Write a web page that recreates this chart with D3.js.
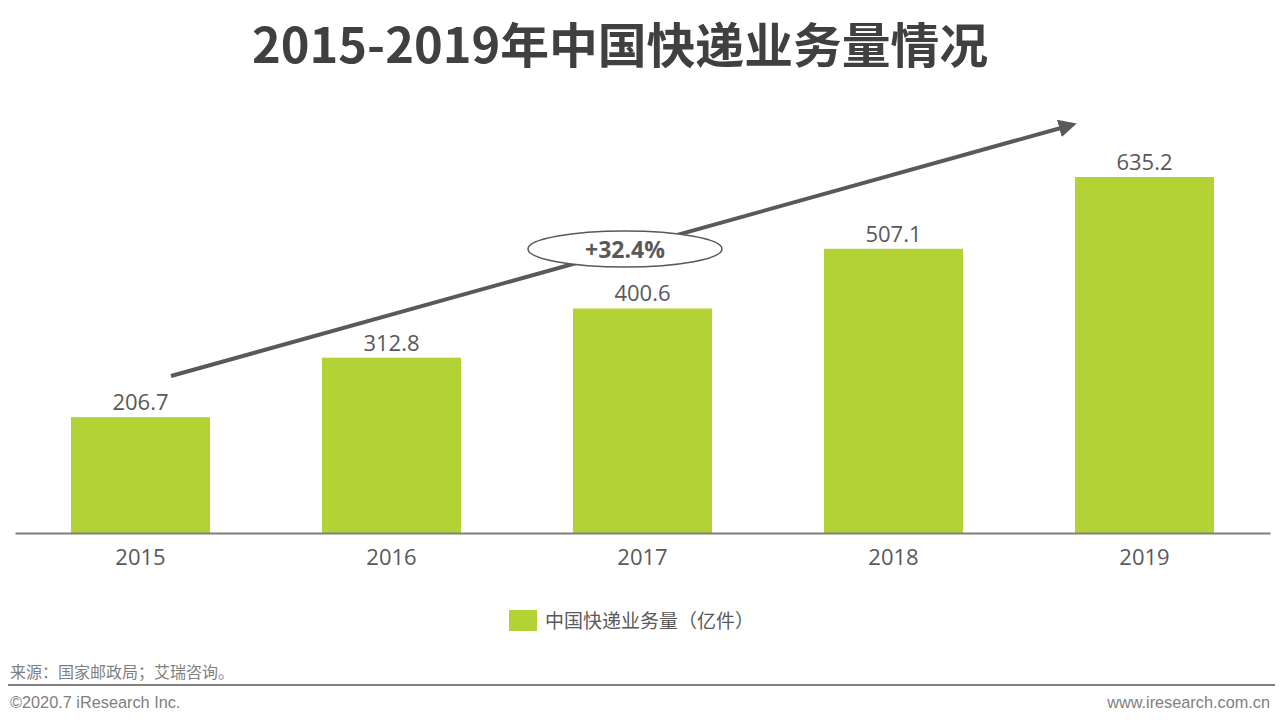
<!DOCTYPE html>
<html>
<head>
<meta charset="utf-8">
<script src="https://cdn.jsdelivr.net/npm/d3@7"></script>
<style>
  body { margin: 0; background: #fff; }
  svg { display: block; font-family: "Noto Sans CJK SC", "Open Sans", sans-serif; }
</style>
</head>
<body>
<svg id="chart" width="1280" height="726"></svg>
<script>
const years = ['2015', '2016', '2017', '2018', '2019'];
const volumes = [206.7, 312.8, 400.6, 507.1, 635.2];
const growthLabel = '+32.4%';
const seriesName = '中国快递业务量（亿件）';

const svg = d3.select('#chart');
const W = 1280;

// title
svg.append('text')
    .attr('x', 620).attr('y', 63)
    .attr('text-anchor', 'middle')
    .attr('font-size', 48).attr('font-weight', 'bold')
    .attr('fill', '#404040')
    .attr('textLength', 736)
    .attr('lengthAdjust', 'spacingAndGlyphs')
    .text('2015-2019年中国快递业务量情况');

const baseY = 533;
const x = d3.scaleBand().domain(years).range([15, 1270]).paddingInner(0.446).paddingOuter(0.223);
const y = d3.scaleLinear().domain([0, 635.2]).range([baseY, 177]);

svg.selectAll('rect.bar')
    .data(volumes)
    .enter()
    .append('rect')
    .attr('class', 'bar')
    .attr('x', (d, i) => x(years[i]))
    .attr('width', x.bandwidth())
    .attr('y', d => y(d))
    .attr('height', d => baseY - y(d))
    .attr('fill', '#b2d235');

svg.selectAll('text.val')
    .data(volumes)
    .enter()
    .append('text')
    .attr('class', 'val')
    .attr('x', (d, i) => x(years[i]) + x.bandwidth() / 2)
    .attr('y', d => y(d) - 7)
    .attr('text-anchor', 'middle')
    .attr('font-family', '"Open Sans", sans-serif')
    .attr('font-size', 22)
    .attr('fill', '#595959')
    .text(d => d.toFixed(1));

// x axis
const axis = svg.append('g')
    .attr('transform', `translate(0,${baseY})`)
    .call(d3.axisBottom(x).tickSize(0).tickPadding(16));
axis.select('.domain').attr('stroke', '#7f7f7f').attr('stroke-width', 2);
axis.selectAll('text')
    .attr('font-family', '"Open Sans", sans-serif')
    .attr('font-size', 22)
    .attr('fill', '#595959');

// growth arrow
const defs = svg.append('defs');
defs.append('marker')
    .attr('id', 'head')
    .attr('viewBox', '0 0 10 10')
    .attr('refX', 5).attr('refY', 5)
    .attr('markerWidth', 4.5).attr('markerHeight', 4.5)
    .attr('orient', 'auto')
    .append('path')
    .attr('d', 'M0,0 L10,5 L0,10 Z')
    .attr('fill', '#595959');

svg.append('line')
    .attr('x1', 171).attr('y1', 376)
    .attr('x2', 1068).attr('y2', 126)
    .attr('stroke', '#595959')
    .attr('stroke-width', 4)
    .attr('marker-end', 'url(#head)');

svg.append('ellipse')
    .attr('cx', 625).attr('cy', 249)
    .attr('rx', 97).attr('ry', 18)
    .attr('fill', '#fff')
    .attr('stroke', '#595959')
    .attr('stroke-width', 1.5);

svg.append('text')
    .attr('x', 625).attr('y', 258)
    .attr('text-anchor', 'middle')
    .attr('font-family', '"Open Sans", sans-serif')
    .attr('font-size', 23).attr('font-weight', 'bold')
    .attr('fill', '#595959')
    .text(growthLabel);

// legend
svg.append('rect')
    .attr('x', 509).attr('y', 610)
    .attr('width', 28).attr('height', 21)
    .attr('fill', '#b2d235');
svg.append('text')
    .attr('x', 545).attr('y', 628)
    .attr('font-size', 19)
    .attr('fill', '#595959')
    .text(seriesName);

// footer
svg.append('text')
    .attr('x', 10).attr('y', 678)
    .attr('font-size', 16)
    .attr('fill', '#7f7f7f')
    .text('来源：国家邮政局；艾瑞咨询。');
svg.append('line')
    .attr('x1', 8).attr('x2', 1275)
    .attr('y1', 685).attr('y2', 685)
    .attr('stroke', '#808080').attr('stroke-width', 2);
svg.append('text')
    .attr('x', 10).attr('y', 708)
    .attr('font-family', '"Liberation Sans", Arial, sans-serif')
    .attr('font-size', 16.3)
    .attr('fill', '#808080')
    .text('©2020.7 iResearch Inc.');
svg.append('text')
    .attr('x', W - 10).attr('y', 708)
    .attr('text-anchor', 'end')
    .attr('font-family', '"Liberation Sans", Arial, sans-serif')
    .attr('font-size', 16.3)
    .attr('fill', '#808080')
    .text('www.iresearch.com.cn');
</script>
</body>
</html>
